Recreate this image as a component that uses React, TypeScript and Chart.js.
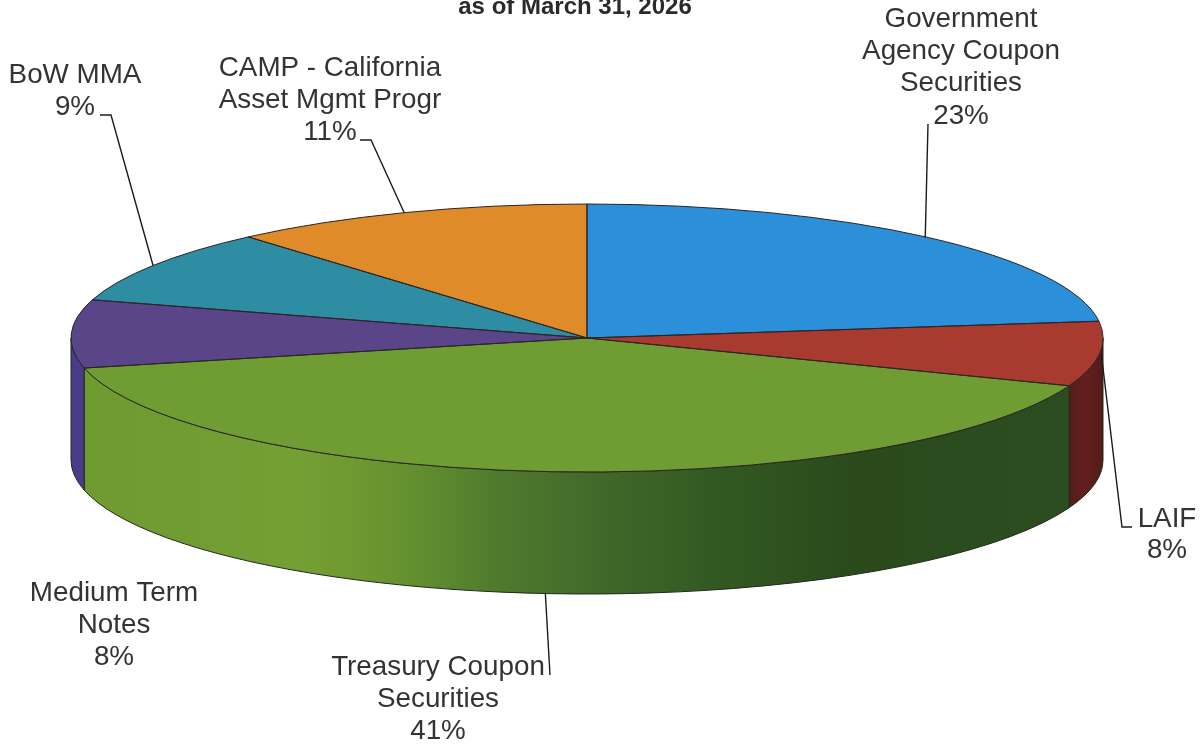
import React, { useEffect, useRef } from "react";
import { Chart, registerables } from "chart.js";

Chart.register(...registerables);

const categories = [
  "Government Agency Coupon Securities",
  "LAIF",
  "Treasury Coupon Securities",
  "Medium Term Notes",
  "BoW MMA",
  "CAMP - California Asset Mgmt Progr",
];
// Slice shares as read from the slice boundaries (printed labels are these rounded)
const shares = [23.0, 7.8, 40.6, 8.2, 9.0, 11.4];
const topColors = ["#2b8fd9", "#a93a30", "#6f9d34", "#5a4589", "#2f8da3", "#e08b29"];
const titleText = "as of March 31, 2026";
const labelLines = [
  ["Government", "Agency Coupon", "Securities", "23%"],
  ["LAIF", "8%"],
  ["Treasury Coupon", "Securities", "41%"],
  ["Medium Term", "Notes", "8%"],
  ["BoW MMA", "9%"],
  ["CAMP - California", "Asset Mgmt Progr", "11%"],
];

// Layout of the tilted disc
const CX = 587, CY = 338, RX = 516, RY = 134, DEPTH = 122;
// Label centre x and first baseline
const labelPos = [
  { x: 961, y: 27, step: 32.2 },
  { x: 1167, y: 527, step: 31 },
  { x: 438, y: 675, step: 32 },
  { x: 114, y: 601, step: 32 },
  { x: 75, y: 83, step: 32 },
  { x: 330, y: 76, step: 32 },
];
// Leader: bend points from the label to the disc; the last point is on the slice's rim
const leaders = [
  { pts: [[928, 124]], nudge: -3, wall: false },
  { pts: [[1132, 527], [1122, 527]], nudge: 2, wall: false },
  { pts: [[550, 675]], nudge: -6, wall: true },
  null,
  { pts: [[100, 115], [111, 115]], nudge: 0, wall: false },
  { pts: [[360, 140], [371, 140]], nudge: -2, wall: false },
];
const wallStops: Record<number, [number, string][]> = {
  1: [[0, "#561c1a"], [0.5, "#641f1d"], [1, "#521b19"]],
  2: [
    [0, "#6f9a30"], [0.22, "#749f33"], [0.27, "#6f9931"], [0.34, "#628e2f"], [0.42, "#4f7a2d"],
    [0.525, "#41682a"], [0.63, "#335a22"], [0.78, "#2a4a1c"], [1, "#2b4d1f"],
  ],
  3: [[0, "#4b3b8b"], [1, "#4b3b8b"]],
};
const FONT = '"Liberation Sans", Arial, sans-serif';

const tiltPlugin = {
  id: "tilt",
  beforeDatasetsDraw(chart: any) {
    const ctx = chart.ctx as CanvasRenderingContext2D;
    const arcs = chart.getDatasetMeta(0).data as any[];
    // side wall, drawn from the slice angles the library computed
    arcs.forEach((arc, i) => {
      const stops = wallStops[i];
      const a0 = Math.max(arc.startAngle, 0);
      const a1 = Math.min(arc.endAngle, Math.PI);
      if (!stops || a1 <= a0) return;
      ctx.beginPath();
      ctx.ellipse(CX, CY, RX, RY, 0, a0, a1);
      ctx.ellipse(CX, CY + DEPTH, RX, RY, 0, a1, a0, true);
      ctx.closePath();
      const x0 = CX + RX * Math.cos(a1);
      const x1 = CX + RX * Math.cos(a0);
      const g = ctx.createLinearGradient(Math.min(x0, x1), 0, Math.max(x0, x1), 0);
      stops.forEach(([p, c]) => g.addColorStop(p, c));
      ctx.fillStyle = g;
      ctx.fill();
      ctx.strokeStyle = "#1f2a1c";
      ctx.lineWidth = 1;
      ctx.stroke();
    });
    const r = arcs[0].outerRadius;
    ctx.save();
    ctx.translate(CX, CY);
    ctx.scale(RX / r, RY / r);
    ctx.translate(-arcs[0].x, -arcs[0].y);
  },
  afterDatasetsDraw(chart: any) {
    const ctx = chart.ctx as CanvasRenderingContext2D;
    ctx.restore();
    const arcs = chart.getDatasetMeta(0).data as any[];
    ctx.strokeStyle = "#2a2424";
    ctx.lineWidth = 1;
    arcs.forEach((arc) => {
      ctx.beginPath();
      ctx.moveTo(CX, CY);
      ctx.ellipse(CX, CY, RX, RY, 0, arc.startAngle, arc.endAngle);
      ctx.closePath();
      ctx.stroke();
    });
    // leaders
    ctx.strokeStyle = "#1c1c1c";
    ctx.lineWidth = 1.4;
    leaders.forEach((l, i) => {
      if (!l) return;
      const mid = (arcs[i].startAngle + arcs[i].endAngle) / 2;
      const ex = CX + RX * Math.cos(mid) + l.nudge;
      const ey = CY + RY * Math.sin(mid) + (l.wall ? DEPTH : 0);
      ctx.beginPath();
      l.pts.forEach(([x, y], k) => (k === 0 ? ctx.moveTo(x, y) : ctx.lineTo(x, y)));
      ctx.lineTo(ex, ey);
      ctx.stroke();
    });
    // texts
    ctx.textAlign = "center";
    ctx.textBaseline = "alphabetic";
    ctx.fillStyle = "#333333";
    ctx.font = `27.8px ${FONT}`;
    labelLines.forEach((lines, i) => {
      const p = labelPos[i];
      lines.forEach((t, k) => ctx.fillText(t, p.x, p.y + k * p.step));
    });
    ctx.fillStyle = "#2a2a2a";
    ctx.font = `bold 24px ${FONT}`;
    ctx.fillText(titleText, 575, 14);
  },
};

export default function App() {
  const ref = useRef<HTMLCanvasElement>(null);
  useEffect(() => {
    if (!ref.current) return;
    const chart = new Chart(ref.current, {
      type: "pie",
      data: {
        labels: categories,
        datasets: [
          { data: shares, backgroundColor: topColors, borderWidth: 0, clip: false } as any,
        ],
      },
      options: {
        responsive: false,
        animation: false,
        rotation: 0,
        layout: { padding: 0 },
        plugins: { legend: { display: false }, tooltip: { enabled: false }, title: { display: false } },
      },
      plugins: [tiltPlugin],
    } as any);
    return () => chart.destroy();
  }, []);
  return (
    <div style={{ position: "fixed", left: 0, top: 0, width: 1202, height: 746, background: "#fff" }}>
      <canvas ref={ref} width={1202} height={746} style={{ display: "block" }} />
    </div>
  );
}
